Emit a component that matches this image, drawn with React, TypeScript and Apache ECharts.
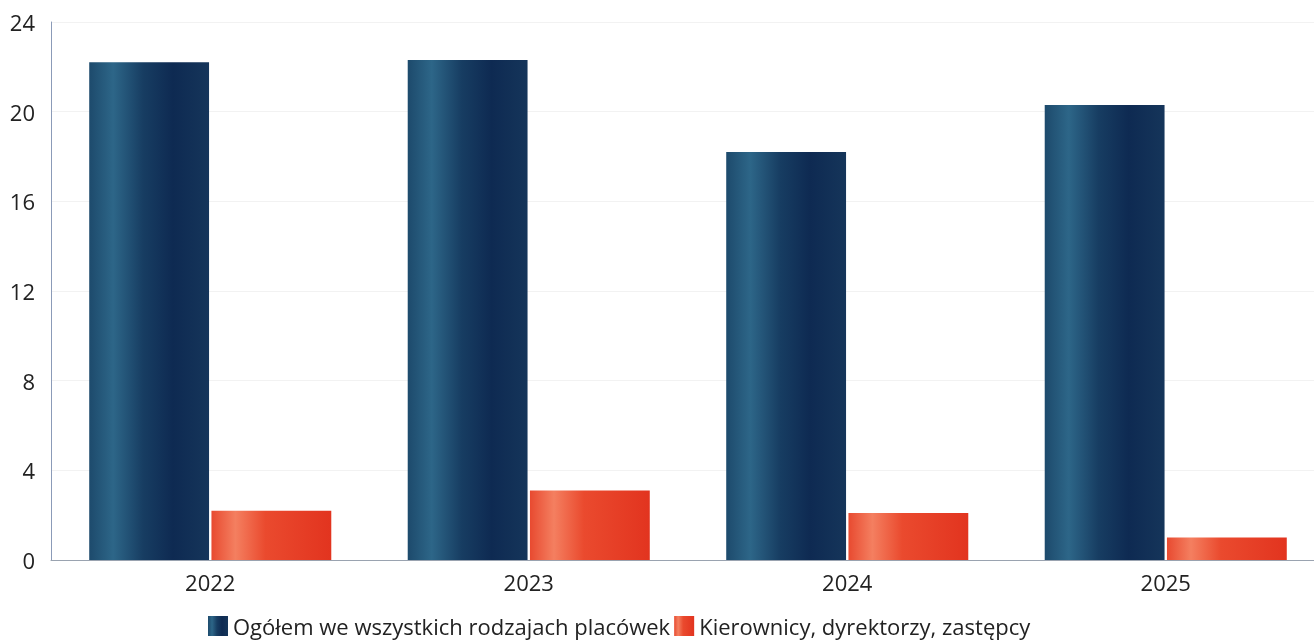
import React, { useEffect, useRef } from "react";
import * as echarts from "echarts";

const categories = ["2022", "2023", "2024", "2025"];
const seriesNames = ["Ogółem we wszystkich rodzajach placówek", "Kierownicy, dyrektorzy, zastępcy"];
const totalValues = [22.2, 22.3, 18.2, 20.3];
const managerValues = [2.2, 3.1, 2.1, 1.0];

const blueGrad = new echarts.graphic.LinearGradient(0, 0, 1, 0, [
  { offset: 0, color: "#1d4a6c" },
  { offset: 0.2, color: "#2d6688" },
  { offset: 0.45, color: "#173d62" },
  { offset: 0.7, color: "#0e2a52" },
  { offset: 1, color: "#15355a" },
]);
const redGrad = new echarts.graphic.LinearGradient(0, 0, 1, 0, [
  { offset: 0, color: "#e84a30" },
  { offset: 0.2, color: "#f47f60" },
  { offset: 0.45, color: "#ea4a2e" },
  { offset: 1, color: "#e2341f" },
]);

export default function App() {
  const ref = useRef<HTMLDivElement>(null);
  useEffect(() => {
    if (!ref.current) return;
    const chart = echarts.init(ref.current, null, { renderer: "svg" });
    chart.setOption({
      animation: false,
      textStyle: { fontFamily: "Open Sans" },
      grid: { left: 51, right: 6, top: 22, bottom: 84, containLabel: false },
      legend: {
        left: 203,
        top: 610,
        itemWidth: 20,
        itemHeight: 20,
        itemGap: 4,
        icon: "rect",
        textStyle: { fontSize: 22, color: "#222", fontFamily: "Open Sans" },
        data: seriesNames,
      },
      xAxis: {
        type: "category",
        data: categories,
        axisLine: { show: true, lineStyle: { color: "#9aa3b0", width: 1 } },
        axisTick: { show: false },
        axisLabel: { fontSize: 22, color: "#222", margin: 11 },
      },
      yAxis: {
        type: "value",
        min: 0,
        max: 24,
        interval: 4,
        axisLine: { show: true, lineStyle: { color: "#8b9bb8", width: 1 } },
        axisTick: { show: false },
        axisLabel: { fontSize: 22, color: "#222", margin: 16 },
        splitLine: { show: true, lineStyle: { color: "#f2f2f2" } },
      },
      series: [
        {
          name: seriesNames[0],
          type: "bar",
          data: totalValues,
          barGap: "2%",
          barCategoryGap: "24%",
          itemStyle: { color: blueGrad },
        },
        {
          name: seriesNames[1],
          type: "bar",
          data: managerValues,
          itemStyle: { color: redGrad },
        },
      ],
    });
    return () => chart.dispose();
  }, []);
  return (
    <div
      style={{ position: "fixed", left: 0, top: 0, width: 1314, height: 644, overflow: "hidden" }}
    >
      <div ref={ref} style={{ width: 1331, height: 644 }} />
    </div>
  );
}
